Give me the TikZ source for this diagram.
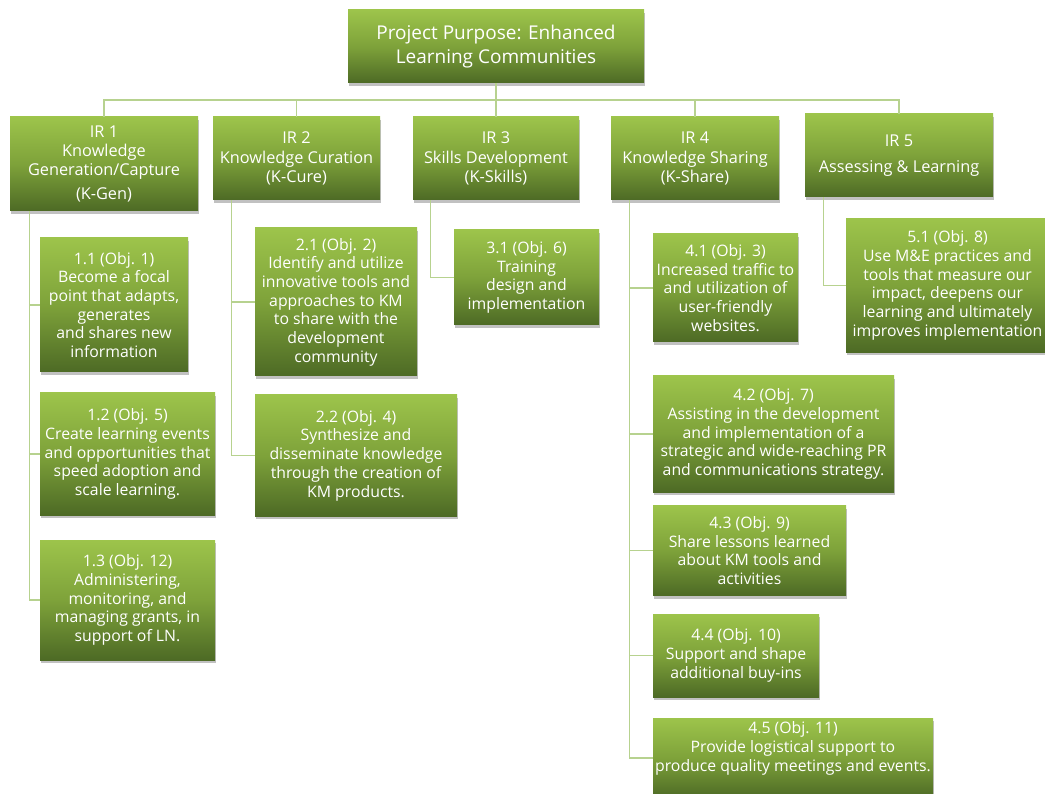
\documentclass[tikz,border=0pt]{standalone}
\usepackage{fontspec}
\setmainfont{Open Sans}
\usetikzlibrary{shadows}
\definecolor{gtop}{HTML}{9DC44B}
\definecolor{gmid}{HTML}{7EA23A}
\definecolor{gbot}{HTML}{4D6A25}
\definecolor{conncol}{HTML}{B7D28F}
\tikzset{
  gbox/.style={rectangle, inner sep=0pt, align=center, text=white,
    top color=gtop, bottom color=gbot, middle color=gmid,
    drop shadow={shadow xshift=1pt, shadow yshift=-3pt, opacity=0.35, fill=black!70},
    font=\fontsize{15.8}{18.7}\selectfont},
  irbox/.style={gbox, font=\fontsize{16.3}{19.3}\selectfont},
  topbox/.style={gbox, font=\fontsize{19}{23.5}\selectfont},
  conn/.style={draw=conncol, line width=1.3pt}
}
\begin{document}
\begin{tikzpicture}[x=1pt,y=-1pt]
\useasboundingbox (0,0) rectangle (1045,794);
% top
\node[topbox, minimum width=296pt, minimum height=73pt] (top) at (496,46.5) {Project Purpose: Enhanced\\Learning Communities};
% IRs
\node[irbox, minimum width=188pt, minimum height=94pt] (ir1) at (104,164) {IR 1\\Knowledge\\Generation/Capture\\[5pt](K-Gen)};
\node[irbox, minimum width=167pt, minimum height=83pt] (ir2) at (296.5,158.5) {IR 2\\Knowledge Curation\\(K-Cure)};
\node[irbox, minimum width=166pt, minimum height=83pt] (ir3) at (496,158.5) {IR 3\\Skills Development\\(K-Skills)};
\node[irbox, minimum width=168pt, minimum height=83pt] (ir4) at (695,158.5) {IR 4\\Knowledge Sharing\\(K-Share)};
\node[irbox, minimum width=188pt, minimum height=83pt] (ir5) at (899,155.5) {IR 5\\[7pt]Assessing \& Learning};
% children IR1
\node[gbox, minimum width=148pt, minimum height=134pt] (c11) at (114,305) {1.1 (Obj. 1)\\Become a focal\\point that adapts,\\generates\\and shares new\\information};
\node[gbox, minimum width=175pt, minimum height=122pt] (c12) at (127.5,454) {1.2 (Obj. 5)\\Create learning events\\and opportunities that\\speed adoption and\\scale learning.};
\node[gbox, minimum width=175pt, minimum height=120pt] (c13) at (127.5,600) {1.3 (Obj. 12)\\Administering,\\monitoring, and\\managing grants, in\\support of LN.};
% IR2
\node[gbox, minimum width=162pt, minimum height=148pt] (c21) at (336,302) {2.1 (Obj. 2)\\Identify and utilize\\innovative tools and\\approaches to KM\\to share with the\\development\\community};
\node[gbox, minimum width=202pt, minimum height=121pt] (c22) at (356,455.5) {2.2 (Obj. 4)\\Synthesize and\\disseminate knowledge\\through the creation of\\KM products.};
% IR3
\node[gbox, minimum width=145pt, minimum height=95pt] (c31) at (526.5,277.5) {3.1 (Obj. 6)\\Training\\design and\\implementation};
% IR4
\node[gbox, minimum width=145pt, minimum height=108pt] (c41) at (725.5,288) {4.1 (Obj. 3)\\Increased traffic to\\and utilization of\\user-friendly\\websites.};
\node[gbox, minimum width=241pt, minimum height=116pt] (c42) at (773.5,434) {4.2 (Obj. 7)\\Assisting in the development\\and implementation of a\\strategic and wide-reaching PR\\and communications strategy.};
\node[gbox, minimum width=193pt, minimum height=90pt] (c43) at (749.5,550.5) {4.3 (Obj. 9)\\Share lessons learned\\about KM tools and\\activities};
\node[gbox, minimum width=166pt, minimum height=83pt] (c44) at (736,655.5) {4.4 (Obj. 10)\\Support and shape\\additional buy-ins};
\node[gbox, minimum width=280pt, minimum height=80pt] (c45) at (793,758) {4.5 (Obj. 11)\\Provide logistical support to\\produce quality meetings and events.\\[4pt]};
% IR5
\node[gbox, minimum width=203pt, minimum height=134pt] (c51) at (947.5,285.5) {5.1 (Obj. 8)\\Use M\&E practices and\\tools that measure our\\impact, deepens our\\learning and ultimately\\improves implementation};
% connectors top
\coordinate (bus) at (0,100);
\draw[conn] (top.south) -- (top.south |- bus) -| (ir1.north);
\draw[conn] (top.south |- bus) -| (ir2.north);
\draw[conn] (top.south |- bus) -- (ir3.north);
\draw[conn] (top.south |- bus) -| (ir4.north);
\draw[conn] (top.south |- bus) -| (ir5.north);
% children connectors
\draw[conn] ([xshift=20pt]ir1.south west) |- (c11.west);
\draw[conn] ([xshift=20pt]ir1.south west) |- (c12.west);
\draw[conn] ([xshift=20pt]ir1.south west) |- (c13.west);
\draw[conn] ([xshift=19pt]ir2.south west) |- (c21.west);
\draw[conn] ([xshift=19pt]ir2.south west) |- (c22.west);
\draw[conn] ([xshift=18pt]ir3.south west) |- (c31.west);
\draw[conn] ([xshift=19pt]ir4.south west) |- (c41.west);
\draw[conn] ([xshift=19pt]ir4.south west) |- (c42.west);
\draw[conn] ([xshift=19pt]ir4.south west) |- (c43.west);
\draw[conn] ([xshift=19pt]ir4.south west) |- (c44.west);
\draw[conn] ([xshift=19pt]ir4.south west) |- (c45.west);
\draw[conn] ([xshift=19pt]ir5.south west) |- (c51.west);
\end{tikzpicture}
\end{document}
